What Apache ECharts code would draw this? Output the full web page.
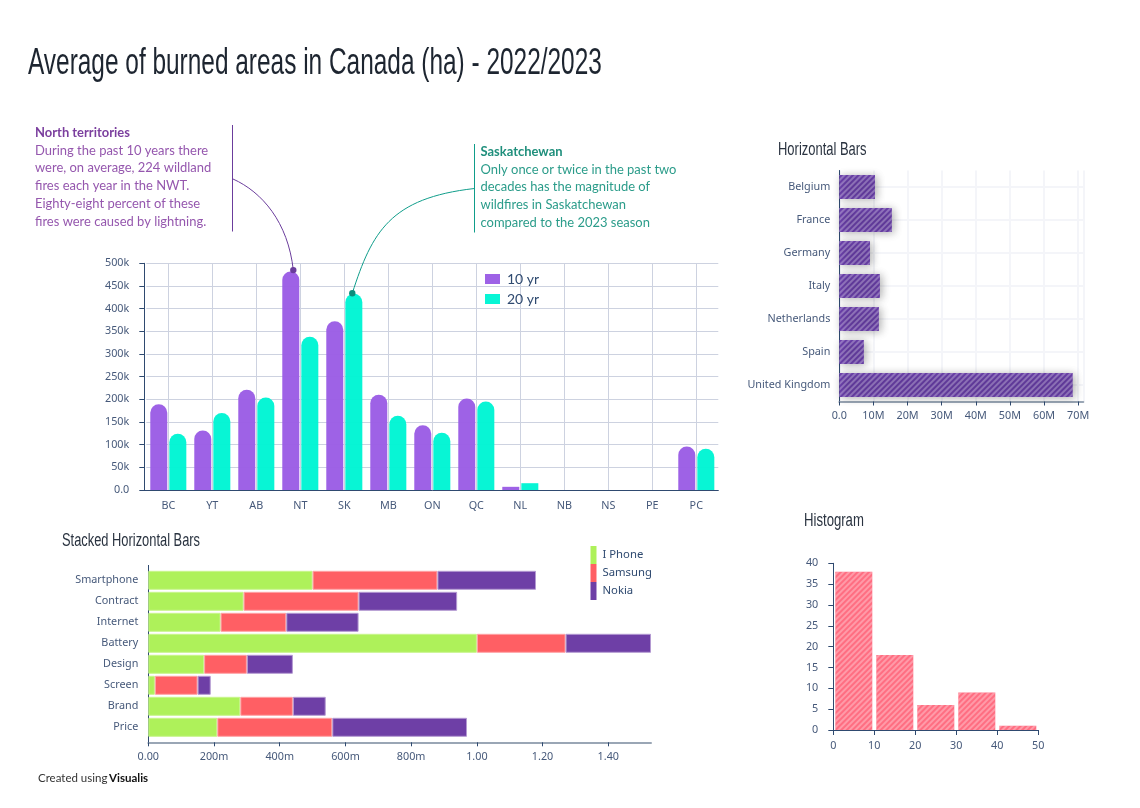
<!DOCTYPE html>
<html>
<head>
<meta charset="utf-8">
<title>Average of burned areas in Canada</title>
<script src="https://cdn.jsdelivr.net/npm/echarts@6/dist/echarts.min.js"></script>
<style>
    html, body { margin: 0; padding: 0; background: #fff; }
    #chart { width: 1140px; height: 808px; }
</style>
</head>
<body>
<div id="chart"></div>
<script>
// burned areas
const provinces = ['BC', 'YT', 'AB', 'NT', 'SK', 'MB', 'ON', 'QC', 'NL', 'NB', 'NS', 'PE', 'PC']
const tenYear = [189000, 131000, 221000, 482000, 372000, 210000, 143000, 202000, 7000, 0, 0, 0, 96000]
const twentyYear = [124000, 170000, 204000, 338000, 433000, 164000, 126000, 195000, 15000, 0, 0, 0, 91000]

// horizontal bars
const countries = ['Belgium', 'France', 'Germany', 'Italy', 'Netherlands', 'Spain', 'United Kingdom']
const countryValues = [10.45, 15.4, 9.0, 11.9, 11.6, 7.2, 68.4]

// stacked bars
const features = ['Smartphone', 'Contract', 'Internet', 'Battery', 'Design', 'Screen', 'Brand', 'Price']
const iphone = [0.5, 0.29, 0.22, 1.0, 0.17, 0.02, 0.28, 0.21]
const samsung = [0.38, 0.35, 0.2, 0.27, 0.13, 0.13, 0.16, 0.35]
const nokia = [0.3, 0.3, 0.22, 0.26, 0.14, 0.04, 0.1, 0.41]

// histogram
const binCenters = [5, 15, 25, 35, 45]
const binCounts = [38, 18, 6, 9, 1]

const stackedTicks = ['0.00', '200m', '400m', '600m', '800m', '1.00', '1.20', '1.40']

const titleFont = '"Liberation Sans", sans-serif'
const bodyFont = 'Lato, "Noto Sans", sans-serif'
const tickFont = '"Noto Sans", sans-serif'
const navy = '#2f4a70'
const tickText = '#46597a'
const purple = '#6e3fa6'
const red = '#ff5f64'
const green = '#aef15a'

const hatch = color => ({
    symbol: 'rect',
    dashArrayX: [1, 0],
    dashArrayY: [1.2, 1.2],
    rotation: -Math.PI / 4,
    color
})
const axisText = { color: tickText, fontFamily: tickFont, fontSize: 10.8 }
// the very short bars stay square
const rounded = values => values.map(v => (v < 20000 ? { value: v, itemStyle: { borderRadius: 0 } } : v))

const chart = echarts.init(document.getElementById('chart'))

chart.setOption({
    animation: false,
    aria: { enabled: false },
    legend: [
        {
            data: ['10 yr', '20 yr'],
            orient: 'vertical',
            icon: 'rect',
            left: 485,
            top: 272,
            itemWidth: 15,
            itemHeight: 10,
            itemGap: 6,
            padding: 0,
            textStyle: { color: navy, fontFamily: bodyFont, fontSize: 14, padding: [0, 0, 0, 2] }
        },
        {
            data: ['I Phone', 'Samsung', 'Nokia'],
            orient: 'vertical',
            icon: 'rect',
            left: 590.5,
            top: 546,
            itemWidth: 6,
            itemHeight: 18,
            itemGap: 0,
            padding: 0,
            itemStyle: { borderWidth: 0 },
            textStyle: { color: navy, fontFamily: tickFont, fontSize: 11.3, lineHeight: 12, padding: [0, 0, 0, 1] }
        }
    ],
    grid: [
        { left: 146.3, top: 263.3, width: 572, height: 226.7 },
        { left: 839.3, top: 170.5, width: 244, height: 231 },
        { left: 148.3, top: 569.8, width: 502.7, height: 168 },
        { left: 833.3, top: 563.3, width: 205, height: 166.7 }
    ],
    xAxis: [
        {
            gridIndex: 0,
            type: 'category',
            data: provinces,
            axisLine: { lineStyle: { color: navy } },
            axisTick: { alignWithLabel: true, length: 5, lineStyle: { color: navy } },
            axisLabel: { ...axisText, margin: 10 },
            splitLine: { show: true, alignWithLabel: true, lineStyle: { color: '#cdd2e0' } }
        },
        {
            gridIndex: 1,
            type: 'value',
            min: 0,
            max: 71.5,
            interval: 10,
            axisLine: { show: true, lineStyle: { color: '#9aa6b5', width: 2 } },
            axisTick: { show: true, length: 4, lineStyle: { color: navy } },
            axisLabel: { ...axisText, margin: 9, showMaxLabel: false, formatter: v => (v === 0 ? '0.0' : v + 'M') },
            splitLine: { show: true, lineStyle: { color: '#f4f5f9', width: 2 } }
        },
        {
            gridIndex: 2,
            type: 'value',
            min: 0,
            max: 1.53,
            interval: 0.2,
            offset: 4.5,
            axisLine: { show: true, lineStyle: { color: '#9aa6b5', width: 2 } },
            axisTick: { show: true, length: 4, lineStyle: { color: navy } },
            axisLabel: { ...axisText, margin: 9, showMaxLabel: false, formatter: v => stackedTicks[Math.round(v / 0.2)] },
            splitLine: { show: false }
        },
        {
            gridIndex: 3,
            type: 'value',
            min: 0,
            max: 50,
            interval: 10,
            axisLine: { show: true, lineStyle: { color: navy } },
            axisTick: { show: true, length: 5, lineStyle: { color: navy } },
            axisLabel: { ...axisText, margin: 10 },
            splitLine: { show: false }
        }
    ],
    yAxis: [
        {
            gridIndex: 0,
            type: 'value',
            min: 0,
            max: 500000,
            interval: 50000,
            offset: 2,
            axisLine: { show: true, lineStyle: { color: navy } },
            axisTick: { show: true, length: 5, lineStyle: { color: navy } },
            axisLabel: { ...axisText, margin: 15, padding: [4, 0, 0, 0], formatter: v => (v === 0 ? '0.0' : v / 1000 + 'k') },
            splitLine: { show: true, lineStyle: { color: '#cdd2e0' } }
        },
        {
            gridIndex: 1,
            type: 'category',
            data: countries,
            inverse: true,
            axisLine: { show: true, lineStyle: { color: navy } },
            axisTick: { alignWithLabel: true, length: 5, lineStyle: { color: '#9aa6b5', width: 2 } },
            axisLabel: { ...axisText, margin: 9, padding: [4, 0, 0, 0] },
            splitLine: { show: true, alignWithLabel: true, lineStyle: { color: '#f4f5f9', width: 2 } }
        },
        {
            gridIndex: 2,
            type: 'category',
            data: features,
            inverse: true,
            axisLine: { show: false },
            axisTick: { alignWithLabel: true, length: 5, lineStyle: { color: '#9aa6b5', width: 2 } },
            axisLabel: { ...axisText, margin: 10, padding: [4, 0, 0, 0] },
            splitLine: { show: false }
        },
        {
            gridIndex: 3,
            type: 'value',
            min: 0,
            max: 40,
            interval: 5,
            axisLine: { show: true, lineStyle: { color: navy } },
            axisTick: { show: true, length: 5, lineStyle: { color: navy } },
            axisLabel: { ...axisText, margin: 15, padding: [4, 0, 0, 0] },
            splitLine: { show: false }
        }
    ],
    series: [
        {
            name: '10 yr',
            type: 'bar',
            xAxisIndex: 0,
            yAxisIndex: 0,
            data: rounded(tenYear),
            barWidth: 17,
            barGap: '12%',
            itemStyle: { color: '#9b5de5', opacity: 0.97, borderRadius: [8.5, 8.5, 0, 0] }
        },
        {
            name: '20 yr',
            type: 'bar',
            xAxisIndex: 0,
            yAxisIndex: 0,
            data: rounded(twentyYear),
            barWidth: 17,
            barGap: '12%',
            itemStyle: { color: '#00f5d4', opacity: 0.97, borderRadius: [8.5, 8.5, 0, 0] }
        },
        {
            name: 'Countries',
            type: 'bar',
            xAxisIndex: 1,
            yAxisIndex: 1,
            data: countryValues,
            barWidth: 24,
            itemStyle: {
                color: '#6e42b0',
                decal: hatch('rgba(255,255,255,0.28)'),
                shadowBlur: 8,
                shadowColor: 'rgba(0,0,0,0.2)',
                shadowOffsetX: 2,
                shadowOffsetY: 1
            }
        },
        ...[['I Phone', iphone, green, '#c8f58c'], ['Samsung', samsung, red, '#ffa3a6'], ['Nokia', nokia, purple, '#b49ad2']].map(
            ([name, data, color, borderColor]) => ({
                name,
                type: 'bar',
                stack: 'phones',
                xAxisIndex: 2,
                yAxisIndex: 2,
                data,
                barWidth: 19,
                itemStyle: { color, borderColor, borderWidth: 1 }
            })
        ),
        {
            name: 'Histogram',
            type: 'bar',
            xAxisIndex: 3,
            yAxisIndex: 3,
            data: binCenters.map((c, i) => [c, binCounts[i]]),
            barWidth: 37,
            itemStyle: { color: '#ff6e82', decal: hatch('rgba(255,255,255,0.3)') }
        }
    ]
})

// annotations hang off the bars they talk about, so place them after the axes exist
const anchor = (category, value, dx) => {
    const p = chart.convertToPixel({ gridIndex: 0 }, [category, value])
    return [p[0] + dx, p[1]]
}
const north = anchor('NT', 485000, -7)
const sask = anchor('SK', 434000, 8)

// no condensed face is installed, so the headings are squeezed to the original width
const heading = (text, x, y, size, scaleX, fill) => ({
    type: 'text',
    x,
    y,
    scaleX,
    style: { text, fill, font: size + 'px ' + titleFont, verticalAlign: 'middle' }
})
const label = (text, x, y, font, fill, scaleX = 1) => ({
    type: 'text',
    x,
    y,
    scaleX,
    style: { text, fill, font, verticalAlign: 'middle' }
})
const annotationText = (left, top, head, lines, headColor, color) => [
    label(head, left, top, '700 13.5px ' + bodyFont, headColor, 0.96),
    ...lines.map((line, i) => label(line, left, top + 17.8 * (i + 1), '13.5px ' + bodyFont, color, 0.96))
]
const straight = (x1, y1, x2, y2, stroke) => ({
    type: 'line',
    shape: { x1, y1, x2, y2 },
    style: { stroke, lineWidth: 1 }
})
const curve = (x1, y1, cpx1, cpy1, cpx2, cpy2, end, stroke) => ({
    type: 'bezierCurve',
    shape: { x1, y1, cpx1, cpy1, cpx2, cpy2, x2: end[0], y2: end[1] },
    style: { stroke, lineWidth: 1, fill: null }
})
const dot = (p, fill) => ({ type: 'circle', shape: { cx: p[0], cy: p[1], r: 3.2 }, style: { fill }, z: 20 })

const northColor = '#6b3d9c'
const saskColor = '#0f9d8a'

chart.setOption({
    graphic: [
        heading('Average of burned areas in Canada (ha) - 2022/2023', 28, 64, 37, 0.66, '#1d2530'),
        heading('Horizontal Bars', 778, 150, 18, 0.72, '#2a3340'),
        heading('Stacked Horizontal Bars', 62, 541, 18, 0.715, '#2a3340'),
        heading('Histogram', 804, 521, 18, 0.73, '#2a3340'),
        ...annotationText(35, 132.5, 'North territories', [
            'During the past 10 years there',
            'were, on average, 224 wildland',
            'fires each year in the NWT.',
            'Eighty-eight percent of these',
            'fires were caused by lightning.'
        ], '#7b3f9e', '#9557ae'),
        ...annotationText(480.5, 151.5, 'Saskatchewan', [
            'Only once or twice in the past two',
            'decades has the magnitude of',
            'wildfires in Saskatchewan',
            'compared to the 2023 season'
        ], '#1f8f7c', '#2b9c8a'),
        straight(232.5, 125, 232.5, 231.5, northColor),
        straight(474.5, 144, 474.5, 232.5, saskColor),
        curve(233, 179, 262, 192, 288, 222, north, northColor),
        curve(474.5, 188.5, 390, 198, 372, 232, sask, saskColor),
        dot(north, northColor),
        dot(sask, '#0b8f7d'),
        // axis pieces the library leaves short of the plot corners
        straight(144, 490.5, 147, 490.5, navy),
        straight(148.5, 565, 148.5, 742.5, navy),
        label('Created using', 38, 778, '11.5px ' + bodyFont, '#333'),
        label('Visualis', 109, 778, '700 11.5px ' + bodyFont, '#111')
    ]
})
</script>
</body>
</html>
